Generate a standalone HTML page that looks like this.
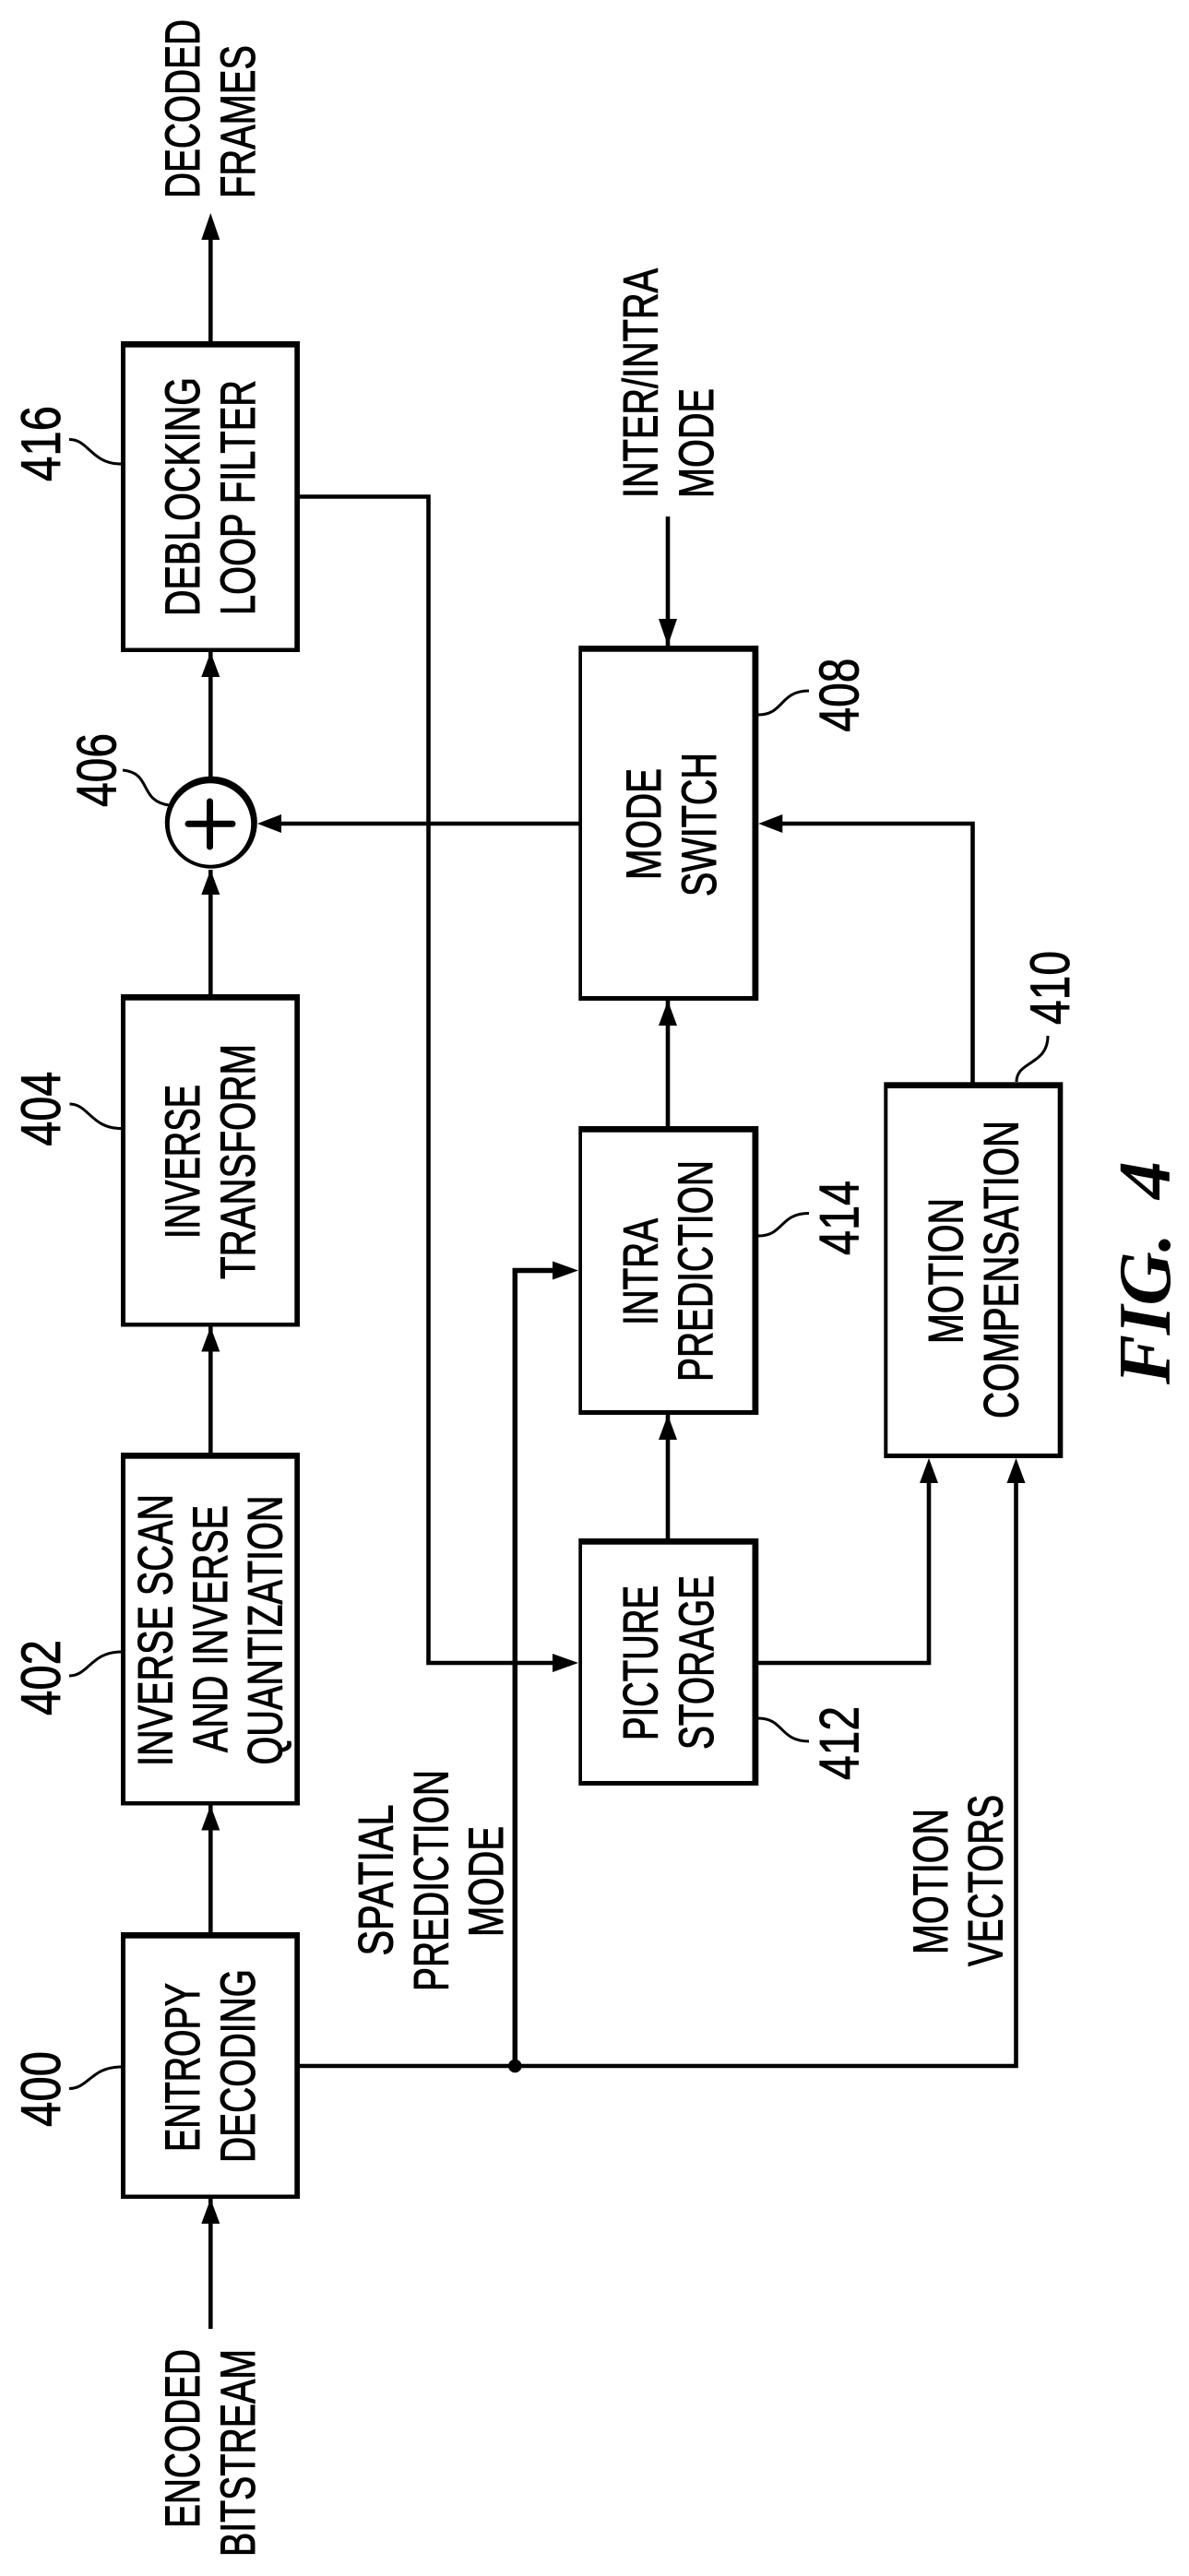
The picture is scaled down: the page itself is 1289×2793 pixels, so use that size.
<!DOCTYPE html>
<html>
<head>
<meta charset="utf-8">
<style>
html,body{margin:0;padding:0;background:#fff}
svg{display:block}
text{font-family:"Liberation Sans",sans-serif;fill:#000}
.t{font-size:53px;stroke:#000;stroke-width:1}
.n{font-size:60px;stroke:#000;stroke-width:.8}
.f{font-family:"Liberation Serif",serif;font-weight:bold;font-style:italic;font-size:80px}
.l{fill:none;stroke:#000;stroke-width:4.6}
.c{fill:none;stroke:#000;stroke-width:3}
.o{fill:#000}
.w{fill:#fff}
</style>
</head>
<body>
<svg width="1289" height="2793" viewBox="0 0 1289 2793" xmlns="http://www.w3.org/2000/svg">
<rect width="1289" height="2793" fill="#fff"/>

<!-- connectors -->
<path class="l" d="M228.3 2525V2384M228.3 2095V1957M228.3 1575V1438M228.3 1078V943M228.3 843V707M228.3 370V240"/>
<path class="l" d="M724 560V700M724 1221V1085M724 1668V1534"/>
<path class="l" d="M628 893H300M1054.5 1174V893H840"/>
<path class="l" d="M325 538.5H464.5V1803H610M822 1803H1007V1600"/>
<path class="l" d="M325 2240H1101.5V1600"/>
<path d="M558.3 2240V1377.5H605" fill="none" stroke="#000" stroke-width="5.5"/>
<circle cx="558.3" cy="2240" r="7.3" fill="#000"/>

<!-- boxes: outer / inner -->
<rect class="o" x="131" y="370" width="194" height="337"/><rect class="w" x="136" y="376.7" width="183.3" height="325.8"/>
<rect class="o" x="131" y="1078" width="194" height="360.5"/><rect class="w" x="136" y="1084.7" width="183.3" height="349.3"/>
<rect class="o" x="131" y="1575" width="194" height="382.5"/><rect class="w" x="136" y="1581.7" width="183.3" height="371.3"/>
<rect class="o" x="131" y="2095" width="194" height="289"/><rect class="w" x="136" y="2101.7" width="183.3" height="277.8"/>
<rect class="o" x="627.3" y="700" width="195" height="385"/><rect class="w" x="631" y="706.7" width="184.5" height="373.3"/>
<rect class="o" x="627.3" y="1221" width="195" height="313"/><rect class="w" x="631" y="1227.7" width="184.5" height="301.3"/>
<rect class="o" x="627.3" y="1668" width="195" height="268"/><rect class="w" x="631" y="1674.7" width="184.5" height="256.3"/>
<rect class="o" x="958.3" y="1173.3" width="194" height="407.7"/><rect class="w" x="962.3" y="1180" width="184.4" height="396"/>

<!-- summing junction -->
<circle cx="228.8" cy="891.7" r="50" fill="#000"/>
<circle cx="228" cy="893.5" r="44.2" fill="#fff"/>
<path d="M204 893.3H252M227.5 869V918" stroke="#000" stroke-width="7" stroke-linecap="round" fill="none"/>

<!-- arrowheads -->
<path d="M228.3 231l-10 29h20zM228.3 707l-10 27h20zM228.3 943l-10 27h20zM228.3 1438.5l-10 27h20zM228.3 1957.5l-10 27h20zM228.3 2384l-10 27h20z" fill="#000"/>
<path d="M724 700l-10-29h20zM724 1085l-10 27h20zM724 1534l-10 27h20z" fill="#000"/>
<path d="M1007 1581l-10 27h20zM1101.5 1581l-10 27h20z" fill="#000"/>
<path d="M279 893l26-10v20zM822.3 893l26-10v20z" fill="#000"/>
<path d="M627 1377.5l-28-10v20zM627 1803l-28-10v20z" fill="#000"/>

<!-- leaders -->
<path class="c" d="M75 476.5C96 476 99 503 131 503"/>
<path class="c" d="M75.5 1197C96 1197 99 1223.5 131 1223.5"/>
<path class="c" d="M75 1817C96 1817 99 1791 131 1791"/>
<path class="c" d="M75 2264.5C96 2264.5 99 2241 131 2241"/>
<path class="c" d="M133 835C165 838 150 868 183 873"/>
<path class="c" d="M822 775C850 775 845 749 877 749"/>
<path class="c" d="M822 1340C850 1340 845 1315.5 877 1315.5"/>
<path class="c" d="M822 1863C850 1863 845 1888 877 1888"/>
<path class="c" d="M1102 1173C1102 1150 1136 1155 1136 1123"/>

<!-- labels -->
<text class="t" transform="translate(216,215) rotate(-90)" textLength="194" lengthAdjust="spacingAndGlyphs">DECODED</text>
<text class="t" transform="translate(276,215) rotate(-90)" textLength="166" lengthAdjust="spacingAndGlyphs">FRAMES</text>
<text class="t" transform="translate(216,668) rotate(-90)" textLength="259" lengthAdjust="spacingAndGlyphs">DEBLOCKING</text>
<text class="t" transform="translate(276,667) rotate(-90)" textLength="255" lengthAdjust="spacingAndGlyphs">LOOP FILTER</text>
<text class="t" transform="translate(712.5,540) rotate(-90)" textLength="249" lengthAdjust="spacingAndGlyphs">INTER/INTRA</text>
<text class="t" transform="translate(773,540) rotate(-90)" textLength="119" lengthAdjust="spacingAndGlyphs">MODE</text>
<text class="t" transform="translate(716,954) rotate(-90)" textLength="121" lengthAdjust="spacingAndGlyphs">MODE</text>
<text class="t" transform="translate(776,972) rotate(-90)" textLength="156" lengthAdjust="spacingAndGlyphs">SWITCH</text>
<text class="t" transform="translate(216,1343) rotate(-90)" textLength="167" lengthAdjust="spacingAndGlyphs">INVERSE</text>
<text class="t" transform="translate(276,1387) rotate(-90)" textLength="255" lengthAdjust="spacingAndGlyphs">TRANSFORM</text>
<text class="t" transform="translate(186.5,1915) rotate(-90)" textLength="295" lengthAdjust="spacingAndGlyphs">INVERSE SCAN</text>
<text class="t" transform="translate(246,1900) rotate(-90)" textLength="268" lengthAdjust="spacingAndGlyphs">AND INVERSE</text>
<text class="t" transform="translate(305.5,1913.5) rotate(-90)" textLength="292" lengthAdjust="spacingAndGlyphs">QUANTIZATION</text>
<text class="t" transform="translate(216,2333) rotate(-90)" textLength="183" lengthAdjust="spacingAndGlyphs">ENTROPY</text>
<text class="t" transform="translate(276,2345) rotate(-90)" textLength="210" lengthAdjust="spacingAndGlyphs">DECODING</text>
<text class="t" transform="translate(216,2741) rotate(-90)" textLength="194" lengthAdjust="spacingAndGlyphs">ENCODED</text>
<text class="t" transform="translate(276,2772) rotate(-90)" textLength="225" lengthAdjust="spacingAndGlyphs">BITSTREAM</text>
<text class="t" transform="translate(425.5,2120.5) rotate(-90)" textLength="164" lengthAdjust="spacingAndGlyphs">SPATIAL</text>
<text class="t" transform="translate(485.5,2159) rotate(-90)" textLength="240" lengthAdjust="spacingAndGlyphs">PREDICTION</text>
<text class="t" transform="translate(545,2100) rotate(-90)" textLength="120" lengthAdjust="spacingAndGlyphs">MODE</text>
<text class="t" transform="translate(1027,2119) rotate(-90)" textLength="158" lengthAdjust="spacingAndGlyphs">MOTION</text>
<text class="t" transform="translate(1086.5,2132) rotate(-90)" textLength="186" lengthAdjust="spacingAndGlyphs">VECTORS</text>
<text class="t" transform="translate(712.5,1437) rotate(-90)" textLength="116" lengthAdjust="spacingAndGlyphs">INTRA</text>
<text class="t" transform="translate(772,1498) rotate(-90)" textLength="240" lengthAdjust="spacingAndGlyphs">PREDICTION</text>
<text class="t" transform="translate(1043.3,1457) rotate(-90)" textLength="158" lengthAdjust="spacingAndGlyphs">MOTION</text>
<text class="t" transform="translate(1103.3,1538) rotate(-90)" textLength="323" lengthAdjust="spacingAndGlyphs">COMPENSATION</text>
<text class="t" transform="translate(712.5,1887) rotate(-90)" textLength="168" lengthAdjust="spacingAndGlyphs">PICTURE</text>
<text class="t" transform="translate(773,1897) rotate(-90)" textLength="189" lengthAdjust="spacingAndGlyphs">STORAGE</text>

<!-- numbers -->
<text class="n" transform="translate(65,522) rotate(-90)" textLength="82" lengthAdjust="spacingAndGlyphs">416</text>
<text class="n" transform="translate(125.5,875) rotate(-90)" textLength="80" lengthAdjust="spacingAndGlyphs">406</text>
<text class="n" transform="translate(930.5,793.6) rotate(-90)" textLength="80" lengthAdjust="spacingAndGlyphs">408</text>
<text class="n" transform="translate(65,1242.6) rotate(-90)" textLength="81" lengthAdjust="spacingAndGlyphs">404</text>
<text class="n" transform="translate(1159,1111) rotate(-90)" textLength="80" lengthAdjust="spacingAndGlyphs">410</text>
<text class="n" transform="translate(930.5,1361) rotate(-90)" textLength="81" lengthAdjust="spacingAndGlyphs">414</text>
<text class="n" transform="translate(65,1860) rotate(-90)" textLength="82" lengthAdjust="spacingAndGlyphs">402</text>
<text class="n" transform="translate(930.5,1930) rotate(-90)" textLength="80" lengthAdjust="spacingAndGlyphs">412</text>
<text class="n" transform="translate(65,2306) rotate(-90)" textLength="82" lengthAdjust="spacingAndGlyphs">400</text>

<!-- figure caption -->
<text class="f" transform="translate(1268,1501) rotate(-90)" textLength="164" lengthAdjust="spacingAndGlyphs">FIG.</text>
<text class="f" transform="translate(1268,1300) rotate(-90)" textLength="41" lengthAdjust="spacingAndGlyphs">4</text>
</svg>
</body>
</html>
